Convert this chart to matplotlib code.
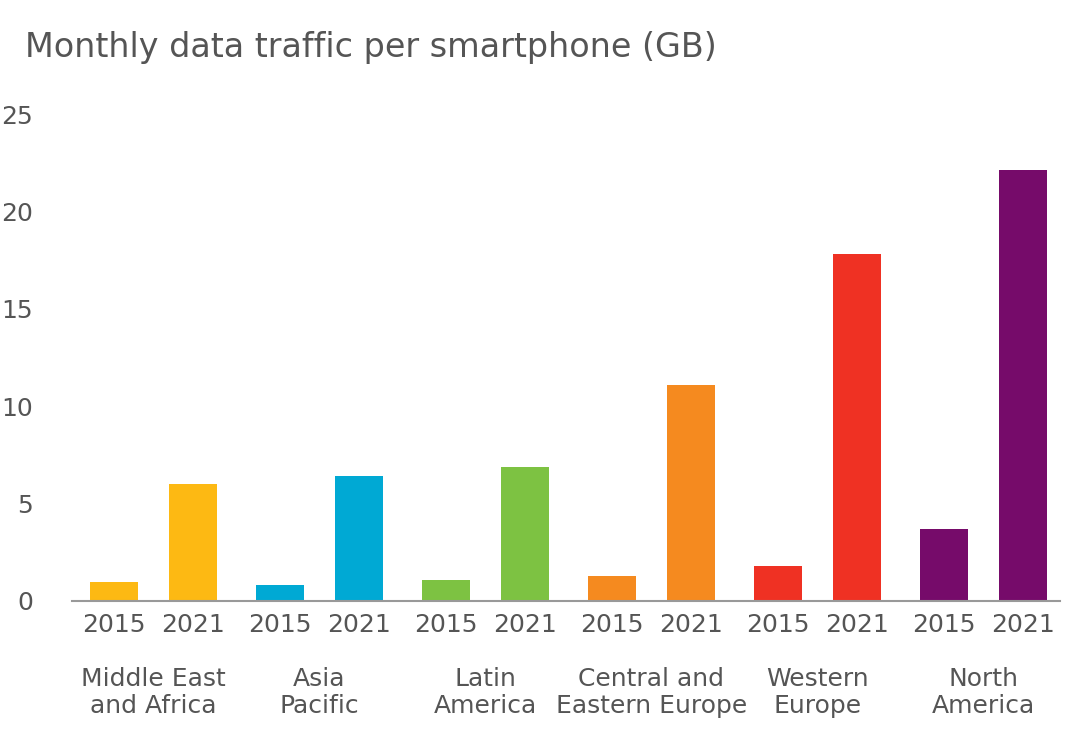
import numpy as np
import matplotlib.pyplot as plt

regions = ["Middle East\nand Africa", "Asia\nPacific", "Latin\nAmerica",
           "Central and\nEastern Europe", "Western\nEurope", "North\nAmerica"]
years = ["2015", "2021"]
v2015 = [1.0, 0.8, 1.1, 1.3, 1.8, 3.7]
v2021 = [6.0, 6.4, 6.9, 11.1, 17.8, 22.1]
colors = ["#FDB913", "#00A9D4", "#7DC242", "#F58A1F", "#EF3123", "#760B6A"]

grey = "#555555"
fig = plt.figure(figsize=(10.79, 7.45), dpi=100)
ax = fig.add_axes([72 / 1079, 1 - 601 / 745, (1060 - 72) / 1079, (601 - 114) / 745])

centers = np.arange(len(regions)) * 2.1
for i, c in enumerate(centers):
    ax.bar([c - 0.5, c + 0.5], [v2015[i], v2021[i]], width=0.61, color=colors[i])
    for x, yr in zip([c - 0.5, c + 0.5], years):
        ax.text(x, -0.6, yr, ha="center", va="top", fontsize=18, color=grey)
    ax.text(c, -3.4, regions[i], ha="center", va="top", fontsize=18, color=grey,
            linespacing=1.15)

ax.set_xlim(centers[0] - 1.03, centers[-1] + 0.97)
ax.set_ylim(0, 25)
ax.set_yticks([0, 5, 10, 15, 20, 25])
ax.tick_params(axis="y", length=0, labelsize=18, labelcolor=grey, pad=28)
ax.set_xticks([])
for s in ["top", "right", "left"]:
    ax.spines[s].set_visible(False)
ax.spines["bottom"].set_color("#999999")
ax.spines["bottom"].set_linewidth(1.5)

fig.text(25 / 1079, 1 - 47 / 745, "Monthly data traffic per smartphone (GB)",
         fontsize=24, color=grey, va="center", fontweight="medium")

fig.savefig("out.png", dpi=100)
